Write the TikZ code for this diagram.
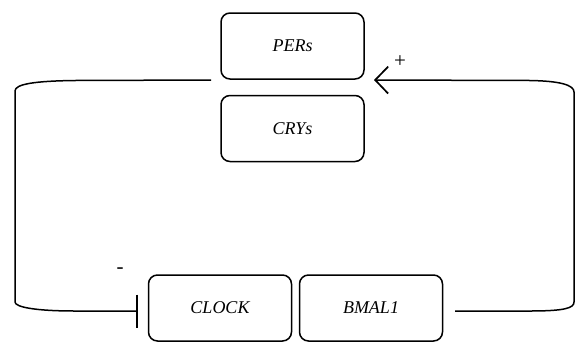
\documentclass[tikz,border=0pt]{standalone}
\usepackage{fontspec}
\setmainfont{Liberation Serif}
\usetikzlibrary{arrows.meta}
\begin{document}
\begin{tikzpicture}[x=1pt,y=-1pt,
  box/.style={draw, line width=1.5pt, rounded corners=9pt, minimum width=143pt, minimum height=66pt, inner sep=0pt, font=\fontsize{18}{21}\selectfont\itshape},
  link/.style={line width=1.5pt},
  sign/.style={font=\fontsize{21}{24}\selectfont, inner sep=0pt}]
\useasboundingbox (0,0) rectangle (575,343);
\node[box] (pers) at (292.5,46) {PERs};
\node[box] (crys) at (292.5,128.5) {CRYs};
\node[box] (clock) at (220,308) {CLOCK};
\node[box] (bmal) at (371,308) {BMAL1};
\coordinate (lstart) at (211,80);
\coordinate (bar) at (137.5,311);
\coordinate (rstart) at (455,311);
\coordinate (tip) at (374,80);
\draw[link, -{Bar[width=33pt,line width=1.5pt]}] (lstart) -- (75,80.5) .. controls (35,81) and (15,84) .. (15,91) -- (15,302) .. controls (15,307) and (35,311) .. (75,311) -- (bar);
\draw[link, -{Straight Barb[length=13pt,width=27pt,line width=1.7pt]}] (rstart) -- (530,311) .. controls (565,311) and (574,308) .. (574,302) -- (574,92) .. controls (574,85) and (560,81) .. (530,80.5) -- (tip);
\node[sign] (plus) at (400,62) {+};
\node[sign] (minus) at (120,271) {-};
\end{tikzpicture}
\end{document}
